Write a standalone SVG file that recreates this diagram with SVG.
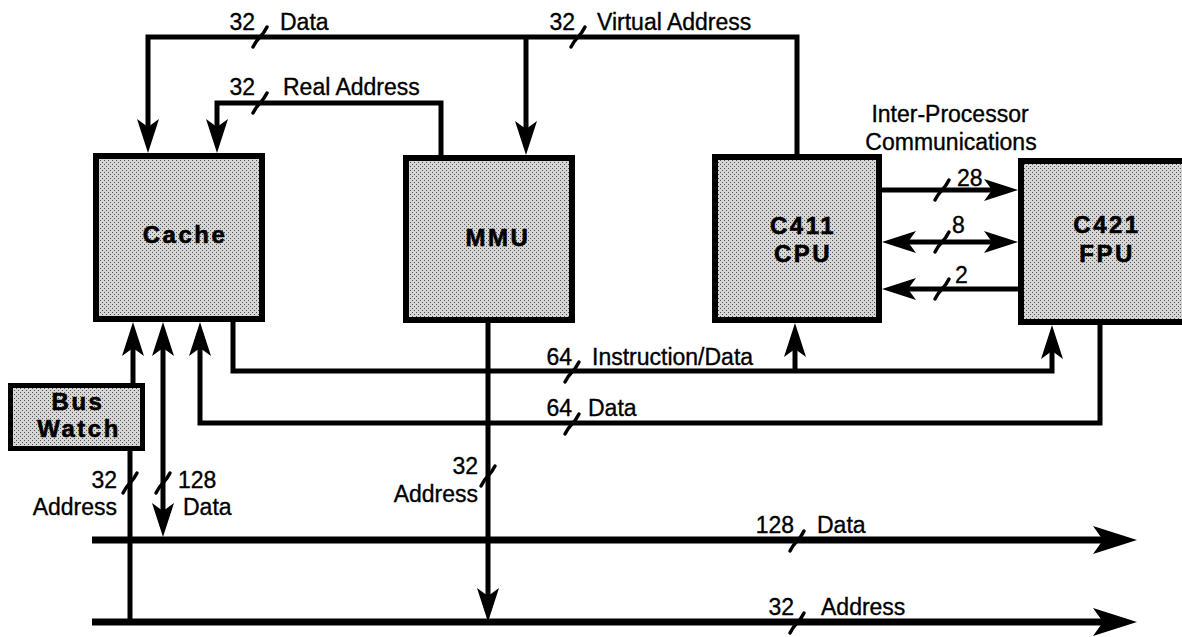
<svg xmlns="http://www.w3.org/2000/svg" xmlns:xlink="http://www.w3.org/1999/xlink" width="1182" height="637" viewBox="0 0 1182 637">
<style>
.box{stroke:#000;stroke-width:6;fill:url(#stip)}
.lbl{font-family:"Liberation Sans",Arial,sans-serif;font-weight:bold;font-size:24px;letter-spacing:2.5px;text-anchor:middle;fill:#000;stroke:#000;stroke-width:0.6}
.t{font-family:"Liberation Sans",Arial,sans-serif;font-size:23px;fill:#000;stroke:#000;stroke-width:0.35}
.e{text-anchor:end}
.m{text-anchor:middle}
.ln{fill:none;stroke:#000;stroke-width:5}
.bus{fill:none;stroke:#000;stroke-width:7}
.sl{fill:none;stroke:#000;stroke-width:3.5;stroke-linecap:round}
</style>
<defs>
<pattern id="stip" width="4" height="4" patternUnits="userSpaceOnUse">
<rect width="4" height="4" fill="#d6d6d6"/>
<rect x="0" y="0" width="1" height="1" fill="#505050"/>
<rect x="2" y="2" width="1" height="1" fill="#505050"/>
</pattern>
<marker id="ah" markerUnits="userSpaceOnUse" viewBox="-30 -14 44 28" markerWidth="44" markerHeight="28" refX="0" refY="0" orient="auto-start-reverse">
<path d="M10,0 L-24,-11 L-16,0 L-24,11 Z" fill="#000"/>
</marker>
<marker id="bh" markerUnits="userSpaceOnUse" viewBox="-40 -16 56 32" markerWidth="56" markerHeight="32" refX="0" refY="0" orient="auto">
<path d="M12,0 L-32,-14 L-22,0 L-32,14 Z" fill="#000"/>
</marker>
<path id="slash" class="sl" d="M-7,10 Q-4,4 0,0 Q4,-4 7,-10"/>
</defs>
<rect width="1182" height="637" fill="#fff"/>

<g id="connectors">
<path class="ln" d="M797,157 V37 H148 V143" marker-end="url(#ah)"/>
<path class="ln" d="M526,37 V145" marker-end="url(#ah)"/>
<path class="ln" d="M441,158 V103 H217 V143" marker-end="url(#ah)"/>
<path class="ln" d="M233,320 V371 H1052 V335" marker-end="url(#ah)"/>
<path class="ln" d="M795,371 V333" marker-end="url(#ah)"/>
<path class="ln" d="M1100,322 V423 H200 V332" marker-end="url(#ah)"/>
<path class="ln" d="M133,386 V332" marker-end="url(#ah)"/>
<path class="ln" d="M130,448 V622"/>
<path class="ln" d="M163,332 V527" marker-start="url(#ah)" marker-end="url(#ah)"/>
<path class="ln" d="M488,320 V612" marker-end="url(#ah)"/>
<path class="ln" d="M879,190 H1008" marker-end="url(#ah)"/>
<path class="ln" d="M892,242 H1008" marker-start="url(#ah)" marker-end="url(#ah)"/>
<path class="ln" d="M1021,289 H892" marker-end="url(#ah)"/>
<path class="bus" d="M92,540 H1125" marker-end="url(#bh)"/>
<path class="bus" d="M92,622 H1125" marker-end="url(#bh)"/>
<use xlink:href="#slash" href="#slash" x="260" y="37"/>
<use xlink:href="#slash" href="#slash" x="578" y="37"/>
<use xlink:href="#slash" href="#slash" x="260" y="103"/>
<use xlink:href="#slash" href="#slash" x="942" y="190"/>
<use xlink:href="#slash" href="#slash" x="942" y="242"/>
<use xlink:href="#slash" href="#slash" x="942" y="289"/>
<use xlink:href="#slash" href="#slash" x="572" y="372"/>
<use xlink:href="#slash" href="#slash" x="572" y="424"/>
<use xlink:href="#slash" href="#slash" x="130" y="483"/>
<use xlink:href="#slash" href="#slash" x="163" y="483"/>
<use xlink:href="#slash" href="#slash" x="488" y="476"/>
<use xlink:href="#slash" href="#slash" x="797" y="541"/>
<use xlink:href="#slash" href="#slash" x="797" y="623"/>
<text class="t e" x="255" y="30">32</text>
<text class="t" x="280" y="30">Data</text>
<text class="t e" x="575" y="30">32</text>
<text class="t" x="597" y="30">Virtual Address</text>
<text class="t e" x="255" y="95">32</text>
<text class="t" x="283" y="95">Real Address</text>
<text class="t m" x="950" y="122">Inter-Processor</text>
<text class="t m" x="951" y="150">Communications</text>
<text class="t" x="957" y="186">28</text>
<text class="t" x="952" y="233">8</text>
<text class="t" x="955" y="283">2</text>
<text class="t e" x="572" y="365">64</text>
<text class="t" x="592" y="365">Instruction/Data</text>
<text class="t e" x="572" y="416">64</text>
<text class="t" x="588" y="416">Data</text>
<text class="t e" x="117" y="488">32</text>
<text class="t e" x="117" y="515">Address</text>
<text class="t" x="178" y="488">128</text>
<text class="t" x="183" y="515">Data</text>
<text class="t e" x="478" y="474">32</text>
<text class="t e" x="478" y="502">Address</text>
<text class="t e" x="794" y="533">128</text>
<text class="t" x="817" y="533">Data</text>
<text class="t e" x="794" y="615">32</text>
<text class="t" x="821" y="615">Address</text>
</g>

<g id="cache">
<rect class="box" x="96" y="156" width="166" height="163"/>
<text class="lbl" x="185" y="243">Cache</text>
</g>
<g id="mmu">
<rect class="box" x="406" y="158" width="166" height="162"/>
<text class="lbl" x="498" y="246">MMU</text>
</g>
<g id="cpu">
<rect class="box" x="715" y="157" width="164" height="163"/>
<text class="lbl" x="803" y="234">C411</text>
<text class="lbl" x="803" y="262">CPU</text>
</g>
<g id="fpu">
<rect class="box" x="1021" y="161" width="180" height="161"/>
<text class="lbl" x="1107" y="233">C421</text>
<text class="lbl" x="1107" y="262">FPU</text>
</g>
<g id="buswatch">
<rect x="10.5" y="385.5" width="132" height="63" fill="url(#stip)" stroke="#000" stroke-width="5"/>
<text class="lbl" x="78" y="410">Bus</text>
<text class="lbl" x="79" y="437">Watch</text>
</g>
</svg>
